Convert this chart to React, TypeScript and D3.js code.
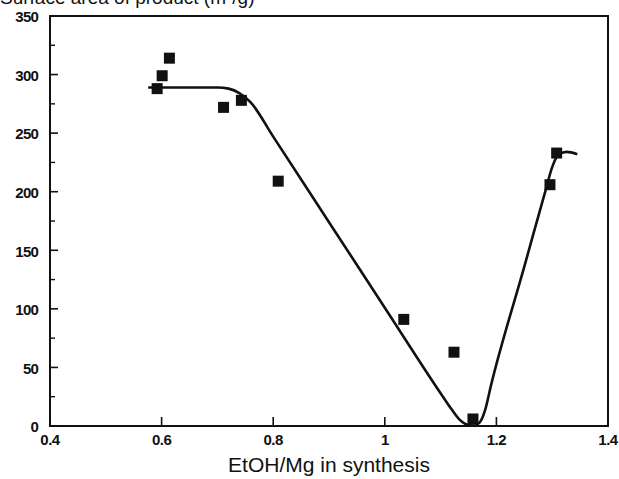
import * as d3 from 'd3'

// measured points (EtOH/Mg ratio, surface area)
const ratio = [0.592, 0.601, 0.614, 0.711, 0.743, 0.809, 1.034, 1.124, 1.158, 1.296, 1.308]
const area = [288, 299, 314, 272, 278, 209, 91, 63, 6, 206, 233]

// hand-drawn trend line
const fitX = [0.576, 0.65, 0.7, 0.72, 0.74, 0.76, 0.8, 0.9, 1.0, 1.1, 1.12, 1.135, 1.148, 1.16, 1.17, 1.18, 1.19, 1.25, 1.288, 1.3, 1.312, 1.326, 1.345]
const fitY = [289, 289, 289, 288, 284, 276, 247, 174, 101, 28, 14, 5, 1, 0.3, 3, 14, 34, 136, 201, 221, 232, 234, 232]

const xTicks = [0.4, 0.6, 0.8, 1, 1.2, 1.4]
const yTicks = [0, 50, 100, 150, 200, 250, 300, 350]
const yMinor = [25, 75, 125, 175, 225, 275, 325]

const W = 619
const H = 479
const left = 50
const right = 608
const top = 16
const bottom = 426

export default function App() {
  const x = d3.scaleLinear().domain([0.4, 1.4]).range([left, right])
  const y = d3.scaleLinear().domain([0, 350]).range([bottom, top])

  const line = d3
    .line<number>()
    .x((_, i) => x(fitX[i]))
    .y((_, i) => y(fitY[i]))
    .curve(d3.curveMonotoneX)

  const font = 'Liberation Sans, Arial, sans-serif'
  const sq = 11

  return (
    <svg
      width={W}
      height={H}
      style={{ position: 'absolute', left: 0, top: 0, background: '#fff' }}
      fontFamily={font}
    >
      <rect width={W} height={H} fill="#fff" />
      <text x={0} y={4} fontSize={19} fill="#111">
        Surface area of product (m²/g)
      </text>

      <rect
        x={left}
        y={top}
        width={right - left}
        height={bottom - top}
        fill="none"
        stroke="#111"
        strokeWidth={2}
      />

      {yTicks.map(t => (
        <g key={'y' + t}>
          <line x1={left} x2={left + 8} y1={y(t)} y2={y(t)} stroke="#111" strokeWidth={1.6} />
          <text
            x={left - 12}
            y={y(t) + 1}
            dy="0.35em"
            textAnchor="end"
            fontSize={15}
            fontWeight="bold"
            letterSpacing={-0.8}
            fill="#111"
          >
            {t}
          </text>
        </g>
      ))}
      {yMinor.map(t => (
        <line key={'m' + t} x1={left} x2={left + 5} y1={y(t)} y2={y(t)} stroke="#111" strokeWidth={1.4} />
      ))}

      {xTicks.map(t => (
        <g key={'x' + t}>
          <line x1={x(t)} x2={x(t)} y1={bottom} y2={bottom - 9} stroke="#111" strokeWidth={1.6} />
          <text x={x(t)} y={bottom + 19} textAnchor="middle" fontSize={15} fontWeight="bold" letterSpacing={-0.5} fill="#111">
            {t}
          </text>
        </g>
      ))}

      <text x={(left + right) / 2} y={472} textAnchor="middle" fontSize={21} fill="#111">
        EtOH/Mg in synthesis
      </text>

      <path d={line(fitX) ?? ''} fill="none" stroke="#111" strokeWidth={2.6} strokeLinejoin="round" />

      {ratio.map((r, i) => (
        <rect
          key={'p' + i}
          x={x(r) - sq / 2}
          y={y(area[i]) - sq / 2}
          width={sq}
          height={sq}
          fill="#111"
        />
      ))}
    </svg>
  )
}
